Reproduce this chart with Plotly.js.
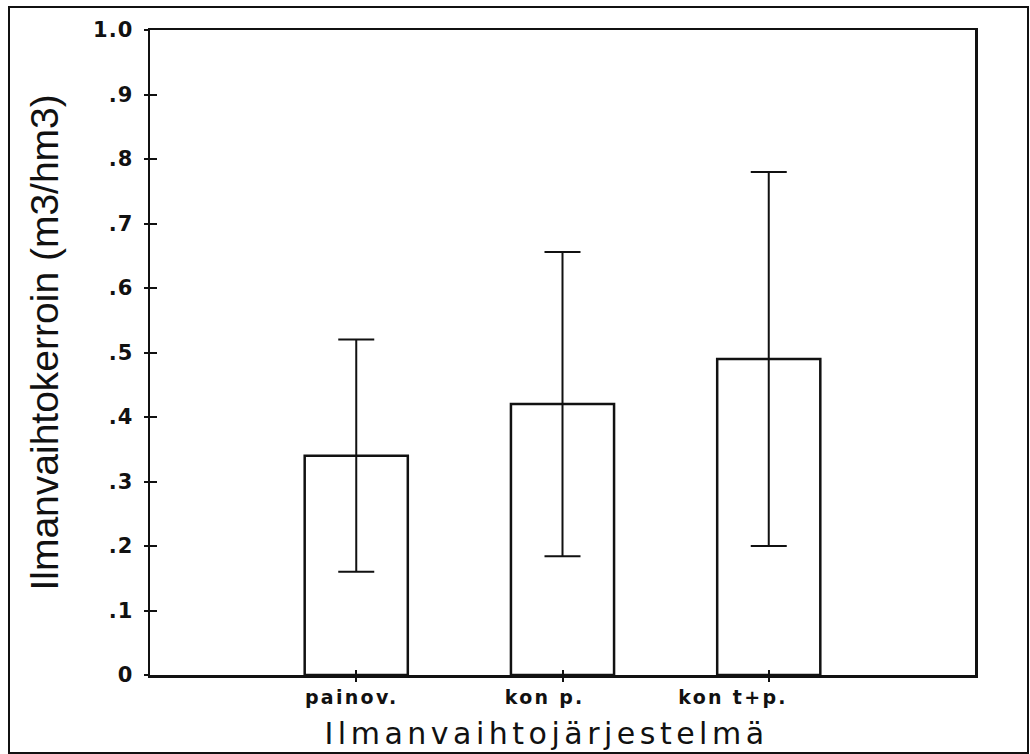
<!DOCTYPE html>
<html>
<head>
<meta charset="utf-8">
<script src="https://cdn.plot.ly/plotly-3.0.1.min.js"></script>
<style>
  html, body { margin: 0; padding: 0; background: #fff; }
  #wrap { position: relative; width: 1030px; height: 754px; }
  #chart { width: 1030px; height: 754px; }
  #frame { position: absolute; left: 8px; top: 6px; width: 1017px; height: 744px; border: 2px solid #111; pointer-events: none; }
  .xtick text { letter-spacing: 2.3px; }
  .ytick text { letter-spacing: 1px; }
  .annotation[data-index="1"] text { letter-spacing: 4.5px; }
</style>
</head>
<body>
<div id="wrap">
  <div id="chart"></div>
  <div id="frame"></div>
</div>
<script>
// Data
const categories = ['painov.', 'kon p.', 'kon t+p.'];
const categoryLabels = ['painov.\u00a0', 'kon p.\u00a0\u00a0\u00a0\u00a0', 'kon t+p.\u00a0\u00a0\u00a0\u00a0\u00a0\u00a0\u00a0\u00a0'];
const meanValues = [0.34, 0.42, 0.49];
const errorValues = [0.18, 0.236, 0.29];
const yTickVals = [0, 0.1, 0.2, 0.3, 0.4, 0.5, 0.6, 0.7, 0.8, 0.9, 1.0];
const yTickText = ['0', '.1', '.2', '.3', '.4', '.5', '.6', '.7', '.8', '.9', '1.0'];
const yTitle = 'Ilmanvaihtokerroin (m3/hm3)';
const xTitle = 'Ilmanvaihtojärjestelmä';

const traces = [
  {
    type: 'bar',
    x: categories,
    y: meanValues,
    width: 0.5,
    marker: { color: '#ffffff', line: { color: '#111', width: 2.5 } },
    error_y: { type: 'data', array: errorValues, visible: true, color: '#111', thickness: 2, width: 18 },
    hoverinfo: 'skip',
    showlegend: false
  },
  { type: 'scatter', x: [], y: [], xaxis: 'x2', yaxis: 'y2', showlegend: false, hoverinfo: 'skip' }
];

const layout = {
  width: 1030,
  height: 754,
  margin: { l: 150, r: 55, t: 30, b: 79 },
  paper_bgcolor: '#ffffff',
  plot_bgcolor: '#ffffff',
  showlegend: false,
  xaxis: {
    type: 'category',
    categoryorder: 'array',
    categoryarray: categories,
    range: [-1, 3],
    tickmode: 'array',
    tickvals: categories,
    ticktext: categoryLabels,
    ticks: 'outside',
    ticklen: 4,
    tickwidth: 2,
    tickcolor: '#111',
    showline: true,
    linecolor: '#111',
    linewidth: 2.5,
    mirror: true,
    showgrid: false,
    zeroline: false,
    tickfont: { family: 'DejaVu Sans', size: 19, color: '#111', weight: 'bold' },
    fixedrange: true
  },
  yaxis: {
    range: [0, 1.0],
    tickmode: 'array',
    tickvals: yTickVals,
    ticktext: yTickText,
    ticks: 'outside',
    ticklen: 4,
    tickwidth: 2,
    tickcolor: '#111',
    ticklabelstandoff: 6,
    showline: true,
    linecolor: '#111',
    linewidth: 2.5,
    mirror: true,
    showgrid: false,
    zeroline: false,
    tickfont: { family: 'DejaVu Sans', size: 21, color: '#111', weight: 'bold' },
    fixedrange: true
  },
  xaxis2: {
    type: 'category',
    overlaying: 'x',
    anchor: 'y2',
    side: 'bottom',
    categoryorder: 'array',
    categoryarray: categories,
    range: [-1, 3],
    tickmode: 'array',
    tickvals: categories,
    ticks: 'inside',
    ticklen: 5,
    tickwidth: 2,
    tickcolor: '#111',
    showticklabels: false,
    showline: false,
    showgrid: false,
    zeroline: false,
    fixedrange: true
  },
  yaxis2: {
    overlaying: 'y',
    anchor: 'x2',
    side: 'left',
    range: [0, 1.0],
    tickmode: 'array',
    tickvals: yTickVals,
    ticks: 'inside',
    ticklen: 7,
    tickwidth: 2,
    tickcolor: '#111',
    showticklabels: false,
    showline: false,
    showgrid: false,
    zeroline: false,
    fixedrange: true
  },
  annotations: [
    {
      text: yTitle,
      xref: 'paper', yref: 'paper',
      x: -0.128, y: 0.516,
      xanchor: 'center', yanchor: 'middle',
      textangle: -90,
      showarrow: false,
      font: { family: 'Liberation Sans', size: 39, color: '#111' }
    },
    {
      text: xTitle,
      xref: 'paper', yref: 'paper',
      x: 0.48, y: -0.09,
      xanchor: 'center', yanchor: 'middle',
      showarrow: false,
      font: { family: 'DejaVu Sans', size: 30, color: '#111' }
    }
  ]
};

Plotly.newPlot('chart', traces, layout, { displayModeBar: false, staticPlot: true });
</script>
</body>
</html>
